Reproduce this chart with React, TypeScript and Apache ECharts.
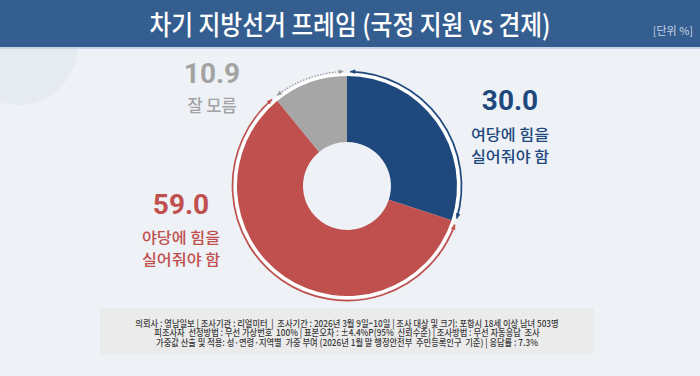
import React, { useEffect, useRef } from "react";
import * as echarts from "echarts";

const TITLE = "차기 지방선거 프레임 (국정 지원 vs 견제)";
const UNIT = "[단위 %]";
const categories = ["여당에 힘을 실어줘야 함", "야당에 힘을 실어줘야 함", "잘 모름"];
const values = [30.0, 59.0, 10.9];
const colors = ["#1f497d", "#c0504d", "#a6a6a6"];
const labelLines = [["여당에 힘을", "실어줘야 함"], ["야당에 힘을", "실어줘야 함"], ["잘 모름"]];
const footerLines = [
  "의뢰사 : 영남일보 | 조사기관 : 리얼미터  |  조사기간 : 2026년 3월 9일~10일 | 조사 대상 및 크기: 포항시 18세 이상 남녀 503명",
  "피조사자  선정방법 : 무선 가상번호  100% | 표본오차 : ±4.4%P(95%  신뢰수준) | 조사방법 : 무선 자동응답  조사",
  "가중값 산출 및 적용: 성·연령·지역별  가중 부여 (2026년 1월 말 행정안전부  주민등록인구  기준) | 응답률 : 7.3%",
];

const W = 700;
const H = 376;
const CX = 347;
const CY = 186;
const R_IN = 44;
const R_OUT = 110;
const R_ARC = 114.5;
const FONT = "'Noto Sans CJK KR', 'Noto Sans', sans-serif";
const NUMFONT = "Roboto, 'Noto Sans', sans-serif";

// label anchor positions (layout, not data)
const labelPos = [
  { x: 510, y: 100, sub: [133, 154.8] },
  { x: 181, y: 204, sub: [236, 257.8] },
  { x: 212, y: 73, sub: [105] },
];

export default function App() {
  const ref = useRef<HTMLDivElement>(null);
  useEffect(() => {
    if (!ref.current) return;
    const chart = echarts.init(ref.current, undefined, { renderer: "svg" });
    const total = values.reduce((a, b) => a + b, 0);

    const labelGraphics: any[] = [];
    values.forEach((v, i) => {
      const p = labelPos[i];
      const fill = i === 2 ? "#a3a3a3" : colors[i];
      labelGraphics.push({
        type: "text",
        x: p.x,
        y: p.y,
        style: {
          text: v.toFixed(1),
          fill,
          font: `bold 28px ${NUMFONT}`,
          textAlign: "center",
          textVerticalAlign: "middle",
        },
      });
      labelLines[i].forEach((t, j) => {
        labelGraphics.push({
          type: "group",
          x: p.x,
          y: p.sub[j],
          scaleX: i === 2 ? 1 : 1.08,
          children: [
            {
              type: "text",
              x: 0,
              y: 0,
              style: {
                text: t,
                fill,
                font: `500 ${i === 2 ? "16.5px" : "15px"} ${FONT}`,
                textAlign: "center",
                textVerticalAlign: "middle",
              },
            },
          ],
        });
      });
    });

    const footerGraphics = footerLines.map((t, i) => ({
      type: "group",
      x: 347,
      y: 323 + i * 9.6,
      scaleX: 0.87,
      children: [
        {
          type: "text",
          x: 0,
          y: 0,
          style: {
            text: t,
            fill: "#3a3a3a",
            font: `500 9.5px ${FONT}`,
            textAlign: "center",
            textVerticalAlign: "middle",
          },
        },
      ],
    }));

    const toRad = (deg: number) => ((deg - 90) * Math.PI) / 180;

    const renderItem = (params: any, api: any) => {
      const i = params.dataIndex;
      let cum = 0;
      for (let k = 0; k < i; k++) cum += values[k];
      const a0 = (cum / total) * 360 + 1.6;
      const a1 = ((cum + values[i]) / total) * 360 - 1.6;
      const t0 = toRad(a0);
      const t1 = toRad(a1);
      const col = i === 2 ? "#9a9a9a" : colors[i];
      const arrow = (t: number, dirSign: number) => {
        const px = CX + R_ARC * Math.cos(t);
        const py = CY + R_ARC * Math.sin(t);
        const dx = -Math.sin(t) * dirSign;
        const dy = Math.cos(t) * dirSign;
        const nx = Math.cos(t);
        const ny = Math.sin(t);
        const L = 5;
        const w = 2.4;
        return {
          type: "polygon",
          shape: {
            points: [
              [px, py],
              [px - dx * L + nx * w, py - dy * L + ny * w],
              [px - dx * L - nx * w, py - dy * L - ny * w],
            ],
          },
          style: { fill: col },
        };
      };
      return {
        type: "group",
        children: [
          {
            type: "arc",
            shape: { cx: CX, cy: CY, r: R_ARC, startAngle: t0, endAngle: t1, clockwise: true },
            style: {
              stroke: col,
              lineWidth: i === 2 ? 1.2 : 1.7,
              fill: "none",
              lineDash: i === 2 ? [1.5, 1.5] : null,
            },
          },
          arrow(t0, -1),
          arrow(t1, 1),
        ],
      };
    };

    chart.setOption({
      animation: false,
      backgroundColor: "#eef2f7",
      graphic: [
        {
          type: "circle",
          shape: { cx: 18, cy: 45, r: 60 },
          style: { fill: "#e6ebf2" },
          z: -10,
        },
        {
          type: "rect",
          shape: { x: 0, y: 0, width: W, height: 47 },
          style: { fill: "#355e90" },
        },
        {
          type: "rect",
          shape: { x: 0, y: 47, width: W, height: 2 },
          style: { fill: "#c9d6e6" },
        },
        {
          type: "group",
          x: 350,
          y: 23,
          scaleX: 0.88,
          children: [
            {
              type: "text",
              x: 0,
              y: 0,
              style: {
                text: TITLE,
                fill: "#ffffff",
                font: `500 27px ${FONT}`,
                textAlign: "center",
                textVerticalAlign: "middle",
              },
            },
          ],
        },
        {
          type: "text",
          x: 693,
          y: 30,
          style: {
            text: UNIT,
            fill: "#c5d2e3",
            font: `11px ${FONT}`,
            textAlign: "right",
            textVerticalAlign: "middle",
          },
        },
        {
          type: "ring",
          shape: { cx: CX, cy: CY, r: 113, r0: 109 },
          style: { fill: "#ffffff" },
        },
        {
          type: "rect",
          shape: { x: 100, y: 308, width: 494, height: 46 },
          style: { fill: "#ebebeb" },
        },
        ...footerGraphics,
        ...labelGraphics,
      ],
      series: [
        {
          type: "pie",
          center: [CX, CY],
          radius: [R_IN, R_OUT],
          startAngle: 90,
          clockwise: true,
          silent: true,
          label: { show: false },
          labelLine: { show: false },
          z: 3,
          data: categories.map((c, i) => ({
            name: c,
            value: values[i],
            itemStyle: { color: colors[i] },
          })),
        },
        {
          type: "custom",
          coordinateSystem: "none",
          silent: true,
          z: 4,
          renderItem,
          data: values.map((v, i) => [i, v]),
        },
      ],
    });
    return () => chart.dispose();
  }, []);
  return (
    <div
      ref={ref}
      style={{ position: "fixed", left: 0, top: 0, width: W, height: H }}
    />
  );
}
